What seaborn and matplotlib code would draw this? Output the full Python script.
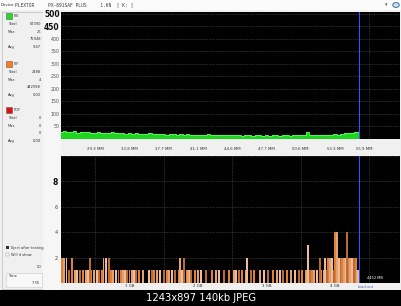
import numpy as np
import pandas as pd
import matplotlib
matplotlib.use("Agg")
import matplotlib.pyplot as plt
import matplotlib.patches as mpatches
import seaborn as sns

# ---------------- data ----------------
pie_step = 0.05  # GB between PIE samples
pie_val = [28, 30, 26, 27, 31, 25, 27, 26, 29, 25,
           24, 26, 23, 25, 22, 27, 23, 22, 24, 21,
           22, 20, 23, 19, 21, 20, 24, 19, 20, 18,
           19, 17, 20, 18, 17, 19, 16, 18, 17, 16,
           17, 15, 16, 18, 15, 16, 14, 17, 15, 14,
           15, 14, 16, 13, 15, 14, 13, 16, 14, 13,
           14, 13, 15, 14, 13, 14, 15, 13, 14, 15,
           14, 16, 26, 15, 14, 16, 15, 14, 16, 17,
           18, 17, 19, 22, 25, 24, 27, 26]

pif_pos = [0.02, 0.05, 0.08, 0.12, 0.16, 0.20, 0.24, 0.28, 0.32, 0.36, 0.40, 0.42, 0.44,
           0.48, 0.52, 0.56, 0.60, 0.62, 0.66, 0.70, 0.73, 0.76, 0.80, 0.84, 0.88, 0.90,
           0.93, 0.97, 1.00, 1.03, 1.06, 1.10, 1.14, 1.20, 1.28, 1.33, 1.36, 1.40, 1.45,
           1.50, 1.55, 1.58, 1.62, 1.66, 1.72, 1.74, 1.76, 1.80, 1.84, 1.86, 1.88, 1.90,
           1.95, 2.00, 2.05, 2.12, 2.20, 2.26, 2.30, 2.38, 2.45, 2.52, 2.55, 2.60, 2.64,
           2.70, 2.72, 2.78, 2.82, 2.90, 2.96, 3.02, 3.10, 3.15, 3.20, 3.24, 3.30, 3.36,
           3.42, 3.48, 3.52, 3.57, 3.60, 3.63, 3.66, 3.70, 3.74, 3.78, 3.80, 3.84, 3.86,
           3.88, 3.90, 3.93, 3.96, 3.98, 4.00, 4.03, 4.06, 4.08, 4.10, 4.13, 4.16, 4.18,
           4.20, 4.22, 4.25, 4.28, 4.30, 4.32, 4.34]
pif_val = [2, 2, 2, 1, 2, 1, 1, 1, 1, 1, 1, 2, 1,
           1, 1, 1, 1, 2, 2, 2, 1, 1, 1, 1, 1, 1,
           1, 1, 1, 1, 1, 1, 1, 1, 1, 1, 1, 1, 1,
           1, 1, 1, 1, 1, 1, 2, 1, 2, 1, 1, 1, 1,
           1, 1, 1, 1, 1, 1, 1, 1, 1, 1, 1, 1, 1,
           1, 2, 1, 1, 1, 1, 1, 1, 1, 1, 1, 1, 1,
           1, 1, 1, 1, 3, 1, 1, 1, 1, 2, 1, 1, 2,
           1, 2, 2, 2, 1, 4, 4, 2, 2, 2, 2, 2, 4,
           2, 2, 2, 2, 2, 1, 1]

top_yticks = [50, 100, 150, 200, 250, 300, 350, 400, 450, 500]
bot_yticks = [2, 4, 6, 8]
mm_pos = [0.5, 1.0, 1.5, 2.0, 2.5, 3.0, 3.5, 4.0, 4.42]
mm_labels = ["29.3 MM", "33.8 MM", "37.7 MM", "41.1 MM", "44.6 MM",
             "47.7 MM", "50.6 MM", "53.3 MM", "55.9 MM"]
gb_pos = [1, 2, 3, 4]
gb_labels = ["1 GB", "2 GB", "3 GB", "4 GB"]
end_gb = 4.35

# ---------------- figure ----------------
W, H = 402, 306
sns.set_theme(style="dark")
plt.rcParams['font.family'] = ['DejaVu Sans']
fig = plt.figure(figsize=(W / 100, H / 100), dpi=100, facecolor="#f0f0f0")


def ax_rect(x0, y0, x1, y1):
    return [x0 / W, 1 - y1 / H, (x1 - x0) / W, (y1 - y0) / H]


def ptext(x, y, s, **kw):
    kw.setdefault("fontsize", 3.2)
    kw.setdefault("color", "#303030")
    kw.setdefault("va", "center")
    fig.text(x / W, 1 - y / H, s, **kw)


def prect(x0, y0, x1, y1, zorder=-1, **kw):
    fig.patches.append(mpatches.Rectangle((x0 / W, 1 - y1 / H), (x1 - x0) / W, (y1 - y0) / H,
                                          transform=fig.transFigure, figure=fig,
                                          zorder=zorder, **kw))


# top bar & caption strip
prect(0, 0, W, 10, facecolor="#fbfbfb", edgecolor="none")
prect(0, 290, W, H, facecolor="#000000", edgecolor="none")
ptext(1, 5, "Device:", fontsize=2.8)
ptext(15, 5, "PLEXTOR     PX-891SAF PLUS     1.KN  [ K: ]", fontsize=3.3,
      family="DejaVu Sans Mono", color="#404040")
ptext(385, 5, "▾", fontsize=3.5, color="#505050")
fig.patches.append(mpatches.Circle((396 / W, 1 - 5 / H), 3.2 / W, transform=fig.transFigure,
                                   figure=fig, facecolor="#cfe0f0", edgecolor="#4a7fb0", lw=0.8))
ptext(201, 298, "1243x897 140kb JPEG", fontsize=7.2, color="white", ha="center")

# left panel
prect(2, 12, 43, 289, facecolor="#f0f0f0", edgecolor="#c4c4c4", lw=0.6)
prect(43.5, 10, 61, 290, facecolor="#f6f6f6", edgecolor="none")
groups = [
    ("PIE", "#22dd22", 16, ["67390", "26", "75948", "9.47"]),
    ("PIF", "#ff7a1a", 64, ["2488", "4", "442998", "0.02"]),
    ("POF", "#e01010", 110, ["0", "0", "0", "0.00"]),
]
for name, col, y0, vals in groups:
    prect(6, y0 - 3, 12, y0 + 3, zorder=1, facecolor=col, edgecolor="#606060", lw=0.4)
    ptext(14, y0, name, fontsize=2.6)
    rows = [("Total", y0 + 8), ("Max", y0 + 16), ("", y0 + 23), ("Avg", y0 + 31)]
    for (lab, yy), v in zip(rows, vals):
        if lab:
            ptext(8, yy, lab, fontsize=2.6)
        ptext(41, yy, v, fontsize=2.6, ha="right")
prect(6, 246, 9, 249, zorder=1, facecolor="#303030", edgecolor="none")
ptext(11, 248, "Eject after testing", fontsize=2.6)
prect(6, 253, 9, 256, zorder=1, facecolor="white", edgecolor="#909090", lw=0.3)
ptext(11, 255, "Will it show", fontsize=2.6)
ptext(41, 267, "50", fontsize=2.6, ha="right")
prect(6, 273, 42, 287, zorder=1, facecolor="#f8f8f8", edgecolor="#c8c8c8", lw=0.4)
ptext(8, 276, "Time", fontsize=2.6)
ptext(40, 283, "7:35", fontsize=2.6, ha="right")

xmax = (400 - 61) / 68.5
grid_kw = dict(color="#5a5a5a", linestyle=(0, (1, 1.5)), linewidth=0.5)

# ---------------- top chart (PIE) ----------------
ax1 = fig.add_axes(ax_rect(61, 12, 400, 139))
ax1.set_facecolor("black")
pie_df = pd.DataFrame({"gb": np.arange(len(pie_val)) * pie_step, "pie": pie_val})
ax1.fill_between(pie_df["gb"], pie_df["pie"], step="mid", color="#1ed41e", lw=0)
sns.lineplot(data=pie_df, x="gb", y="pie", ax=ax1, drawstyle="steps-mid",
             color="#5cff5c", lw=0.6)
ax1.axvline(end_gb, color="#3a4dff", lw=0.8)
ax1.set_xlim(0, xmax)
ax1.set_ylim(0, 508)
ax1.set_yticks(top_yticks)
ax1.set_yticklabels([str(v) for v in top_yticks])
ax1.set_xticks(mm_pos)
ax1.set_xticklabels(mm_labels)
ax1.tick_params(axis="y", length=0, pad=1, labelsize=3.4, labelcolor="#505050")
ax1.tick_params(axis="x", length=0, pad=5.5, labelsize=2.8, labelcolor="#303030")
for lab in ax1.get_yticklabels():
    if lab.get_text() in ("500", "450"):
        lab.set_fontsize(5.5)
        lab.set_fontweight("bold")
        lab.set_color("#101010")
ax1.set_xlabel("")
ax1.set_ylabel("")
ax1.grid(True, **grid_kw)
ax1.set_xticks(np.arange(0.5, 4.9, 0.5), minor=True)
ax1.grid(False, which="major", axis="x")
ax1.grid(True, which="minor", axis="x", **grid_kw)
for s in ax1.spines.values():
    s.set_visible(False)

# ---------------- bottom chart (PIF) ----------------
ax2 = fig.add_axes(ax_rect(61, 156, 400, 283))
ax2.set_facecolor("black")
shades = ["a", "b", "c", "d"]
pif_df = pd.DataFrame({"gb": pif_pos, "pif": pif_val,
                       "shade": [shades[i % 4] for i in range(len(pif_pos))]})
sns.barplot(data=pif_df, x="gb", y="pif", hue="shade", native_scale=True, dodge=False,
            palette={"a": "#ff7a1a", "b": "#f3a060", "c": "#ffb888", "d": "#d0661f"},
            errorbar=None, width=1.4, legend=False, ax=ax2, linewidth=0)
ax2.axvline(end_gb, color="#3a4dff", lw=0.8)
ax2.set_xlim(0, xmax)
ax2.set_ylim(0, 10)
ax2.set_yticks(bot_yticks)
ax2.set_yticklabels([str(v) for v in bot_yticks])
ax2.set_xticks(gb_pos)
ax2.set_xticklabels(gb_labels)
ax2.tick_params(axis="y", length=0, pad=2, labelsize=3.6, labelcolor="#404040")
ax2.tick_params(axis="x", length=0, pad=1, labelsize=2.8, labelcolor="#303030")
for lab in ax2.get_yticklabels():
    if lab.get_text() == "8":
        lab.set_fontsize(5.5)
        lab.set_fontweight("bold")
        lab.set_color("#101010")
ax2.set_xlabel("")
ax2.set_ylabel("")
ax2.set_xticks(np.arange(0.5, 4.9, 0.5), minor=True)
ax2.grid(False, which="major", axis="x")
ax2.grid(True, which="minor", axis="x", **grid_kw)
ax2.grid(True, which="major", axis="y", **grid_kw)
ax2.axhline(10, **grid_kw)
ax2.text(4.47, 0.35, "4452 MB", fontsize=2.6, color="white")
for s in ax2.spines.values():
    s.set_visible(False)
ptext(366, 287, "Lead-out", fontsize=2.6, color="#4060b0", ha="center")

fig.savefig("out.png", dpi=100, facecolor=fig.get_facecolor())
